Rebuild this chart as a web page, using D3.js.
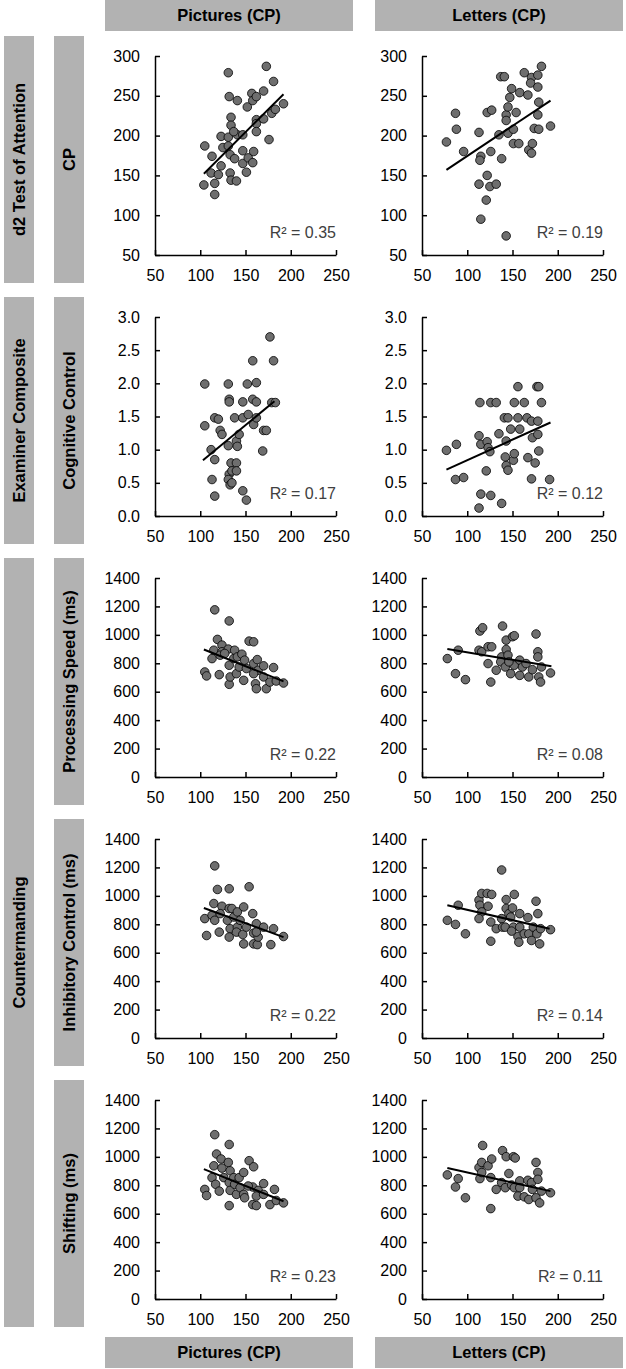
<!DOCTYPE html>
<html><head><meta charset="utf-8">
<script src="https://cdn.jsdelivr.net/npm/d3@7/dist/d3.min.js"></script>
<style>
html,body{margin:0;padding:0;background:#fff;}
svg{display:block;font-family:"Liberation Sans",Arial,sans-serif;}
</style></head>
<body><svg id="c" width="626" height="1369"></svg>
<script>
// ---- labels ----
const colLabels = ["Pictures (CP)", "Letters (CP)"];
const groupLabels = ["d2 Test of Attention", "Examiner Composite", "Countermanding"];
const groupRows = [[0,0],[1,1],[2,4]];
const measureLabels = ["CP", "Cognitive Control", "Processing Speed (ms)", "Inhibitory Control (ms)", "Shifting (ms)"];
const xTicks = [50,100,150,200,250];
const yTicksCP = [50,100,150,200,250,300];
const yTicksCC = [0,0.5,1.0,1.5,2.0,2.5,3.0];
const yTicksMs = [0,200,400,600,800,1000,1200,1400];
const r2Labels = ["0.35","0.19","0.17","0.12","0.22","0.08","0.22","0.14","0.23","0.11"];

// ---- data: [CP score, outcome] ----
const picCP = [[105,187],[104,138],[116,126],[116,140],[113,174],[112,153],[120,151],[123,199],[125,185],[123,162],[131,279],[132,249],[134,223],[134,213],[131,198],[131,187],[133,176],[133,153],[134,144],[140,143],[138,171],[141,201],[141,244],[147,201],[147,181],[147,165],[151,154],[152,236],[153,172],[157,253],[158,244],[159,180],[158,166],[162,249],[162,220],[162,215],[162,205],[170,221],[170,256],[173,287],[176,195],[179,228],[181,268],[183,233],[192,240],[137,205]];
const letCP = [[77,192],[87,228],[88,208],[96,180],[113,204],[115,174],[114,169],[113,139],[115,95],[122,229],[127,232],[122,150],[125,136],[121,119],[132,139],[126,180],[137,274],[141,274],[135,201],[138,171],[143,226],[143,219],[145,236],[145,203],[147,248],[149,259],[151,208],[151,190],[154,229],[157,190],[158,254],[163,279],[167,251],[168,182],[171,178],[172,190],[171,273],[170,266],[174,209],[178,276],[178,261],[178,226],[179,242],[179,208],[182,287],[192,212],[143,74]];
const picCC = [[105,1.99],[105,1.36],[113,0.55],[116,0.30],[112,1.0],[116,0.85],[116,1.48],[120,1.46],[122,1.29],[124,1.23],[131,1.99],[132,1.76],[132,1.72],[131,1.06],[134,0.80],[132,0.63],[131,0.55],[133,0.47],[135,0.50],[135,0.68],[140,0.80],[140,0.68],[138,1.48],[140,1.13],[141,1.05],[143,1.23],[147,1.48],[147,1.72],[147,0.38],[151,0.24],[152,1.99],[153,1.53],[158,2.34],[158,1.76],[159,1.38],[162,2.01],[162,1.72],[162,1.48],[169,0.98],[170,1.29],[173,1.29],[177,2.70],[181,2.34],[179,1.71],[183,1.71]];
const letCC = [[77,0.99],[88,1.08],[87,0.55],[96,0.58],[114,1.71],[126,1.71],[132,1.71],[113,1.21],[115,1.08],[122,1.12],[123,1.03],[125,0.97],[121,0.68],[115,0.33],[113,0.12],[126,0.31],[138,0.19],[135,1.24],[141,1.48],[145,1.48],[143,1.13],[142,0.89],[143,0.76],[145,0.69],[148,1.31],[151,0.84],[152,0.94],[152,1.71],[156,1.95],[156,1.48],[158,1.31],[163,1.71],[166,1.48],[167,0.88],[171,0.56],[171,1.43],[172,1.18],[175,0.80],[177,1.95],[179,1.95],[178,1.43],[178,1.23],[179,0.98],[182,1.71],[191,0.55]];
const picPS = [[105,739],[107,711],[116,1176],[119,968],[115,892],[113,833],[121,720],[124,928],[124,881],[132,1098],[131,900],[132,786],[132,652],[133,704],[137,833],[138,892],[140,727],[141,845],[143,774],[146,864],[148,680],[149,822],[151,763],[154,956],[159,951],[159,798],[161,656],[162,621],[164,751],[163,826],[170,782],[170,704],[173,621],[177,668],[181,770],[184,675],[192,661],[122,857],[127,869],[159,727]];
const letPS = [[78,833],[87,727],[90,892],[98,685],[114,1027],[117,1050],[113,892],[116,881],[123,916],[127,916],[123,798],[126,668],[132,751],[139,1062],[138,845],[137,810],[143,963],[143,897],[145,857],[142,774],[148,727],[150,987],[152,994],[152,786],[158,822],[158,715],[161,774],[165,798],[168,704],[172,755],[176,1006],[178,881],[178,845],[179,704],[181,668],[182,774],[192,732],[146,810]];
const picIC = [[105,840],[107,721],[116,1211],[119,1045],[132,1050],[154,1064],[115,946],[113,863],[116,828],[121,745],[124,927],[132,911],[135,911],[130,828],[133,769],[132,710],[137,851],[141,887],[141,780],[140,745],[144,828],[148,922],[147,728],[148,662],[151,780],[158,875],[159,738],[159,662],[163,657],[162,804],[164,710],[170,780],[178,657],[181,769],[192,714],[162,745],[122,875]];
const letIC = [[78,828],[87,799],[90,934],[98,733],[113,970],[116,1017],[122,1017],[127,1010],[114,934],[116,887],[113,840],[123,927],[126,816],[126,681],[132,769],[138,1182],[138,840],[139,780],[143,974],[143,911],[142,780],[146,875],[150,915],[148,851],[152,1010],[151,780],[158,875],[158,780],[156,714],[157,674],[163,733],[167,847],[168,733],[171,686],[173,780],[176,962],[178,875],[177,733],[180,662],[181,769],[192,762],[149,752]];
const picSH = [[105,771],[107,728],[116,1156],[132,1087],[118,1020],[123,985],[115,937],[124,921],[113,854],[117,807],[121,759],[131,961],[133,902],[126,854],[132,819],[133,764],[132,657],[137,854],[138,807],[140,736],[143,854],[144,783],[148,890],[148,736],[149,712],[154,973],[159,930],[158,788],[158,664],[162,657],[164,764],[162,724],[170,812],[170,736],[177,664],[182,771],[184,693],[192,676],[153,795]];
const letSH = [[78,873],[87,788],[90,847],[98,712],[117,1080],[113,925],[116,961],[114,847],[116,890],[123,937],[127,985],[126,854],[126,636],[132,771],[139,1044],[138,819],[143,1001],[146,883],[142,783],[151,1001],[153,992],[149,802],[152,783],[158,831],[158,783],[156,724],[163,719],[168,700],[167,835],[171,819],[172,771],[176,961],[178,890],[178,842],[176,712],[180,676],[182,759],[192,747]];

// ---- linear trend lines, endpoints [x, y] ----
const trendPicCP = [[104,152],[192,252]];
const trendLetCP = [[77,157],[192,244]];
const trendPicCC = [[103,0.84],[182,1.73]];
const trendLetCC = [[77,0.70],[192,1.41]];
const trendPicPS = [[104,897],[192,673]];
const trendLetPS = [[78,900],[193,779]];
const trendPicIC = [[104,915],[192,710]];
const trendLetIC = [[78,934],[191,769]];
const trendPicSH = [[104,914],[192,688]];
const trendLetSH = [[78,921],[192,759]];

// ---- assemble panels ----
const rowsY = [
  {ticks: yTicksCP, fmt: d3.format("d")},
  {ticks: yTicksCC, fmt: d3.format(".1f")},
  {ticks: yTicksMs, fmt: d3.format("d")},
  {ticks: yTicksMs, fmt: d3.format("d")},
  {ticks: yTicksMs, fmt: d3.format("d")}
];
const panelData = [[picCP, letCP],[picCC, letCC],[picPS, letPS],[picIC, letIC],[picSH, letSH]];
const panelTrend = [[trendPicCP, trendLetCP],[trendPicCC, trendLetCC],[trendPicPS, trendLetPS],[trendPicIC, trendLetIC],[trendPicSH, trendLetSH]];

// ---- layout ----
const svg = d3.select("#c");
const FONT = '"Liberation Sans", Arial, sans-serif';
const GRAY = "#b2b2b2";
const plotTops = [56, 317, 578, 839, 1100];
const plotH = 199;
const axisX = [155, 422];
const plotW = 181;
const headerX = [105, 375];
const headerW = 248;
const bandX = [4, 54];
const bandW = 30;

// column headers (top and bottom)
[[0,31],[1337,31]].forEach(([hy,hh]) => {
  colLabels.forEach((lab, c) => {
    svg.append("rect").attr("x", headerX[c]).attr("y", hy).attr("width", headerW).attr("height", hh).attr("fill", GRAY);
    svg.append("text").attr("x", headerX[c] + headerW/2).attr("y", hy + hh/2).attr("dy", "0.35em")
      .attr("text-anchor", "middle").attr("font-weight", "bold").attr("font-size", 16.5).attr("font-family", FONT)
      .attr("fill", "#000").text(lab);
  });
});

function band(x, y0, y1, label) {
  svg.append("rect").attr("x", x).attr("y", y0).attr("width", bandW).attr("height", y1 - y0).attr("fill", GRAY);
  const cx = x + bandW/2, cy = (y0 + y1)/2;
  svg.append("text").attr("transform", `translate(${cx},${cy}) rotate(-90)`).attr("dy", "0.35em")
    .attr("text-anchor", "middle").attr("font-weight", "bold").attr("font-size", 16.5).attr("font-family", FONT)
    .attr("fill", "#000").text(label);
}
// outer group bands
groupLabels.forEach((lab, g) => {
  const [r0, r1] = groupRows[g];
  band(bandX[0], plotTops[r0] - 20, plotTops[r1] + 227, lab);
});
// measure bands
measureLabels.forEach((lab, r) => band(bandX[1], plotTops[r] - 20, plotTops[r] + 227, lab));

// panels
const line = d3.line();
for (let r = 0; r < 5; r++) {
  const yt = rowsY[r].ticks;
  for (let c = 0; c < 2; c++) {
    const x = d3.scaleLinear().domain([xTicks[0], xTicks[xTicks.length-1]]).range([axisX[c], axisX[c] + plotW]);
    const y = d3.scaleLinear().domain([yt[0], yt[yt.length-1]]).range([plotTops[r] + plotH, plotTops[r]]);
    const g = svg.append("g");

    const ya = g.append("g").attr("transform", `translate(${axisX[c]},0)`)
      .call(d3.axisLeft(y).tickValues(yt).tickFormat(rowsY[r].fmt).tickSizeInner(-5).tickSizeOuter(0).tickPadding(15));
    const xa = g.append("g").attr("transform", `translate(0,${plotTops[r] + plotH})`)
      .call(d3.axisBottom(x).tickValues(xTicks).tickFormat(d3.format("d")).tickSizeInner(-5).tickSizeOuter(0).tickPadding(15));
    [ya, xa].forEach(a => {
      a.selectAll("path.domain").attr("stroke", "#000").attr("stroke-width", 1.5);
      a.selectAll(".tick line").attr("stroke", "#000").attr("stroke-width", 1.5);
      a.selectAll(".tick text").attr("font-size", 16).attr("font-family", FONT).attr("fill", "#000");
    });

    // points
    g.append("g").selectAll("circle").data(panelData[r][c]).join("circle")
      .attr("cx", d => x(d[0])).attr("cy", d => y(d[1])).attr("r", 4.3)
      .attr("fill", "#6e6e6e").attr("stroke", "#000").attr("stroke-width", 0.8);

    // trend line
    g.append("path").attr("d", line(panelTrend[r][c].map(d => [x(d[0]), y(d[1])])))
      .attr("fill", "none").attr("stroke", "#000").attr("stroke-width", 2);

    // R² label
    g.append("text").attr("x", x(250)).attr("y", plotTops[r] + 182).attr("text-anchor", "end")
      .attr("font-size", 16).attr("font-family", FONT).attr("fill", "#404040")
      .text("R² = " + r2Labels[r*2 + c]);
  }
}
</script></body></html>
